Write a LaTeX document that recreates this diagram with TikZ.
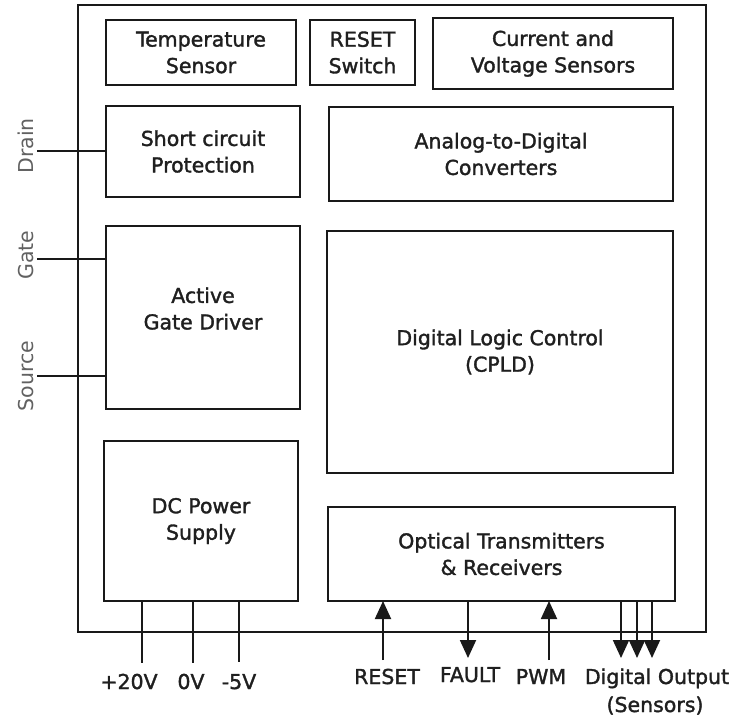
\documentclass[tikz,border=0pt]{standalone}
\usepackage{fontspec}
\setmainfont{DejaVu Sans}
\newfontfamily\blockfont[FakeBold=1.6]{DejaVu Sans}
\usetikzlibrary{arrows.meta}
\begin{document}
\begin{tikzpicture}[x=1pt, y=-1pt, line width=1.9pt,
  blk/.style={draw=black!90, line width=1.9pt, inner sep=0pt, outer sep=0pt,
              anchor=north west, align=center,
              font=\blockfont\fontsize{20.5}{26.5}\selectfont, text=black!88},
  lbl/.style={font=\blockfont\fontsize{20.5}{26.5}\selectfont, text=black!88, inner sep=0pt},
  side/.style={font=\fontsize{20.5}{26.5}\selectfont, text=black!62, inner sep=0pt,
               rotate=90, anchor=base},
  wire/.style={draw=black!90, line width=1.9pt},
  arr/.style={wire, -{Triangle[length=18pt,width=16pt]}}]
\useasboundingbox (0,0) rectangle (738,717);

% module frame
\node[blk, minimum width=628pt, minimum height=627pt] (board) at (78,5) {};

% functional blocks
\node[blk, minimum width=190pt, minimum height=65pt] (temp) at (106,20) {Temperature\\Sensor};
\node[blk, minimum width=105pt, minimum height=65pt] (rst)  at (310,20) {RESET\\Switch};
\node[blk, minimum width=240pt, minimum height=71pt] (cvs)  at (433,18) {Current and\\Voltage Sensors};
\node[blk, minimum width=194pt, minimum height=91pt] (scp)  at (106,106) {Short circuit\\Protection};
\node[blk, minimum width=344pt, minimum height=94pt] (adc)  at (329,107) {Analog-to-Digital\\Converters};
\node[blk, minimum width=194pt, minimum height=183pt] (agd) at (106,226) {};
\node[lbl, align=center] (agdtxt) at ([yshift=9pt]agd.center) {Active\\Gate Driver};
\node[blk, minimum width=346pt, minimum height=242pt] (dlc) at (327,231) {Digital Logic Control\\(CPLD)};
\node[blk, minimum width=194pt, minimum height=160pt] (dcps) at (104,441) {DC Power\\Supply};
\node[blk, minimum width=347pt, minimum height=94pt] (opt) at (328,507) {Optical Transmitters\\\& Receivers};

% power device terminals
\coordinate (drainpin)  at (37,151);
\coordinate (gatepin)   at (37,259);
\coordinate (sourcepin) at (37,376);
\draw[wire] (drainpin)  -- (drainpin -| scp.west);
\draw[wire] (gatepin)   -- (gatepin -| agd.west);
\draw[wire] (sourcepin) -- (sourcepin -| agd.west);
\node[side] (drainlbl)  at (33,146) {Drain};
\node[side] (gatelbl)   at (33,255) {Gate};
\node[side] (sourcelbl) at (33,376) {Source};

% supply rails
\coordinate (p20) at (142,663);
\coordinate (p0)  at (193,663);
\coordinate (m5)  at (239,662);
\draw[wire] (p20 |- dcps.south) -- (p20);
\draw[wire] (p0 |- dcps.south)  -- (p0);
\draw[wire] (m5 |- dcps.south)  -- (m5);
\node[lbl, anchor=base] (l20) at (129,689) {+20V};
\node[lbl, anchor=base] (l0)  at (191,689) {0V};
\node[lbl, anchor=base] (lm5) at (239,689) {-5V};

% optical links
\coordinate (rstin)  at (383,660);
\coordinate (fltout) at (468,658);
\coordinate (pwmin)  at (549,660);
\coordinate (dout1)  at (621,658);
\coordinate (dout2)  at (637,658);
\coordinate (dout3)  at (652,658);
\draw[arr] (rstin) -- (rstin |- opt.south);
\draw[arr] (fltout |- opt.south) -- (fltout);
\draw[arr] (pwmin) -- (pwmin |- opt.south);
\draw[arr] (dout1 |- opt.south) -- (dout1);
\draw[arr] (dout2 |- opt.south) -- (dout2);
\draw[arr] (dout3 |- opt.south) -- (dout3);
\node[lbl, anchor=base] (lrst) at (387,684) {RESET};
\node[lbl, anchor=base] (lflt) at (470,682) {FAULT};
\node[lbl, anchor=base] (lpwm) at (541,684) {PWM};
\node[lbl, anchor=base] (ldo)  at (657,684) {Digital Output};
\node[lbl, anchor=base] (lsen) at (655,712) {(Sensors)};
\end{tikzpicture}
\end{document}
